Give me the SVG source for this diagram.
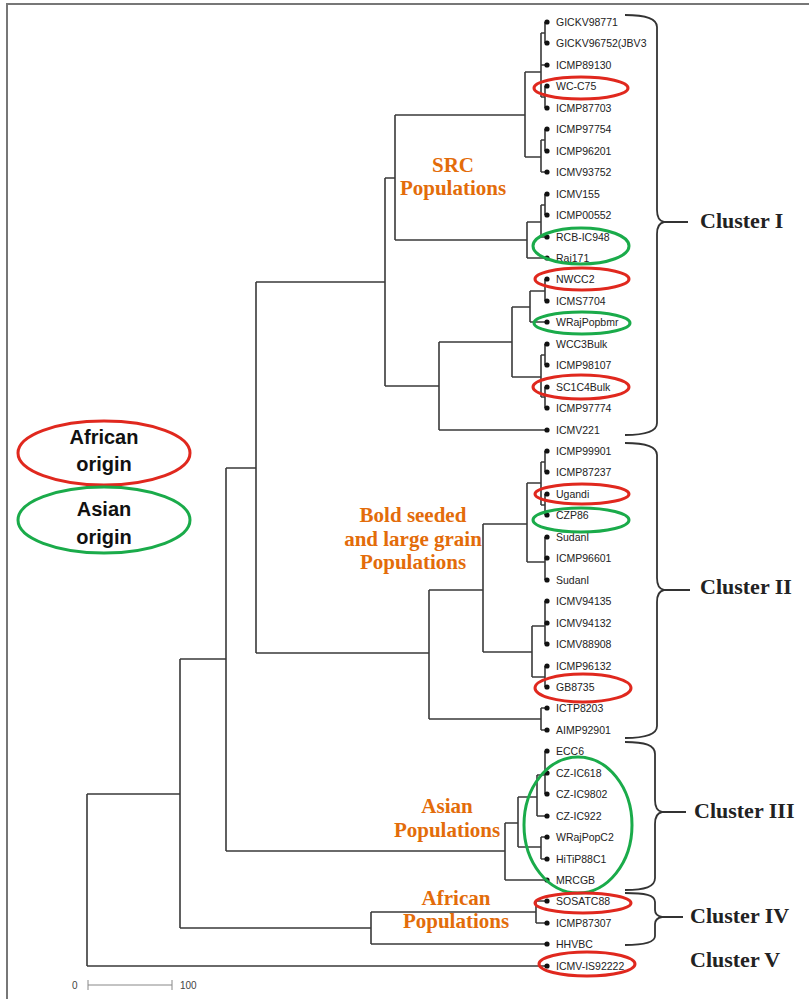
<svg xmlns="http://www.w3.org/2000/svg" width="809" height="999" viewBox="0 0 809 999">
<style>
.br{fill:none;stroke:#3a3a3a;stroke-width:1.6}
.lf{font-family:"Liberation Sans",Arial,sans-serif;font-size:10.5px;fill:#222}
.dot{fill:#111}
.or{font-family:"Liberation Serif","Times New Roman",serif;font-weight:bold;font-size:21px;fill:#e36c0a;text-anchor:middle}
.cl{font-family:"Liberation Serif","Times New Roman",serif;font-weight:bold;font-size:22px;fill:#222}
.red{fill:none;stroke:#e0281e;stroke-width:3}
.grn{fill:none;stroke:#1aab4a;stroke-width:3}
.lg{font-family:"Liberation Sans",Arial,sans-serif;font-weight:bold;font-size:20px;fill:#111;text-anchor:middle}
.brace{fill:none;stroke:#333;stroke-width:1.8}
.sc{font-family:"Liberation Sans",Arial,sans-serif;font-size:10px;fill:#444}
</style>
<rect width="809" height="999" fill="#fff"/>
<path d="M7,999V4H809" fill="none" stroke="#777" stroke-width="2"/>

<g id="connectors" class="br">
<path d="M545,22V43M545,86V108M541,33V97M541,33H545M541,65H547M541,97H545"/>
<path d="M545,129V151M541,140V172M541,140H545M541,172H547"/>
<path d="M525,72V157M525,72H541M525,157H541"/>
<path d="M545,194V215M541,205V237M541,205H545M541,237H547M527,222V258M527,222H541M527,258H547"/>
<path d="M395,115V240M395,115H525M395,240H527"/>
<path d="M545,279V301M530,291V322M530,291H545M530,322H547"/>
<path d="M545,344V365M545,387V408M541,355V397M541,355H545M541,397H545"/>
<path d="M512,307V377M512,307H530M512,377H541"/>
<path d="M439,342V430M439,342H512M439,430H547"/>
<path d="M385,178V386M385,178H395M385,386H439"/>
<path d="M545,451V472M545,494V515M541,462V505M541,462H545M541,505H545"/>
<path d="M545,537V580M527,483V562M527,483H541M527,562H545"/>
<path d="M545,601V644M545,666V687M532,626V677M532,626H545M532,677H545"/>
<path d="M483,524V652M483,524H527M483,652H532"/>
<path d="M541,708V730M541,708H547M541,730H547"/>
<path d="M429,590V719M429,590H483M429,719H541"/>
<path d="M256,282V653M256,282H385M256,653H429"/>
<path d="M545,751V794M537,775V816M537,775H545M537,816H547"/>
<path d="M541,837V859M541,837H547M541,859H547"/>
<path d="M518,797V847M518,797H537M518,847H541"/>
<path d="M505,823V880M505,823H518M505,880H547"/>
<path d="M226,468V851M226,468H256M226,851H505"/>
<path d="M536,901V923M536,901H547M536,923H547"/>
<path d="M371,912V944M371,912H536M371,944H547"/>
<path d="M180,659V928M180,659H226M180,928H371"/>
<path d="M87,794V966M87,794H180M87,966H547"/>
</g>

<g id="leaves">
<g id="L1"><circle class="dot" cx="547" cy="22" r="2.6"/><text class="lf" x="556" y="25.5">GICKV98771</text></g>
<g id="L2"><circle class="dot" cx="547" cy="43" r="2.6"/><text class="lf" x="556" y="46.5">GICKV96752(JBV3</text></g>
<g id="L3"><circle class="dot" cx="547" cy="65" r="2.6"/><text class="lf" x="556" y="68.5">ICMP89130</text></g>
<g id="L4"><circle class="dot" cx="547" cy="86" r="2.6"/><text class="lf" x="556" y="89.5">WC-C75</text></g>
<g id="L5"><circle class="dot" cx="547" cy="108" r="2.6"/><text class="lf" x="556" y="111.5">ICMP87703</text></g>
<g id="L6"><circle class="dot" cx="547" cy="129" r="2.6"/><text class="lf" x="556" y="132.5">ICMP97754</text></g>
<g id="L7"><circle class="dot" cx="547" cy="151" r="2.6"/><text class="lf" x="556" y="154.5">ICMP96201</text></g>
<g id="L8"><circle class="dot" cx="547" cy="172" r="2.6"/><text class="lf" x="556" y="175.5">ICMV93752</text></g>
<g id="L9"><circle class="dot" cx="547" cy="194" r="2.6"/><text class="lf" x="556" y="197.5">ICMV155</text></g>
<g id="L10"><circle class="dot" cx="547" cy="215" r="2.6"/><text class="lf" x="556" y="218.5">ICMP00552</text></g>
<g id="L11"><circle class="dot" cx="547" cy="237" r="2.6"/><text class="lf" x="556" y="240.5">RCB-IC948</text></g>
<g id="L12"><circle class="dot" cx="547" cy="258" r="2.6"/><text class="lf" x="556" y="261.5">Raj171</text></g>
<g id="L13"><circle class="dot" cx="547" cy="279" r="2.6"/><text class="lf" x="556" y="282.5">NWCC2</text></g>
<g id="L14"><circle class="dot" cx="547" cy="301" r="2.6"/><text class="lf" x="556" y="304.5">ICMS7704</text></g>
<g id="L15"><circle class="dot" cx="547" cy="322" r="2.6"/><text class="lf" x="556" y="325.5">WRajPopbmr</text></g>
<g id="L16"><circle class="dot" cx="547" cy="344" r="2.6"/><text class="lf" x="556" y="347.5">WCC3Bulk</text></g>
<g id="L17"><circle class="dot" cx="547" cy="365" r="2.6"/><text class="lf" x="556" y="368.5">ICMP98107</text></g>
<g id="L18"><circle class="dot" cx="547" cy="387" r="2.6"/><text class="lf" x="556" y="390.5">SC1C4Bulk</text></g>
<g id="L19"><circle class="dot" cx="547" cy="408" r="2.6"/><text class="lf" x="556" y="411.5">ICMP97774</text></g>
<g id="L20"><circle class="dot" cx="547" cy="430" r="2.6"/><text class="lf" x="556" y="433.5">ICMV221</text></g>
<g id="L21"><circle class="dot" cx="547" cy="451" r="2.6"/><text class="lf" x="556" y="454.5">ICMP99901</text></g>
<g id="L22"><circle class="dot" cx="547" cy="472" r="2.6"/><text class="lf" x="556" y="475.5">ICMP87237</text></g>
<g id="L23"><circle class="dot" cx="547" cy="494" r="2.6"/><text class="lf" x="556" y="497.5">Ugandi</text></g>
<g id="L24"><circle class="dot" cx="547" cy="515" r="2.6"/><text class="lf" x="556" y="518.5">CZP86</text></g>
<g id="L25"><circle class="dot" cx="547" cy="537" r="2.6"/><text class="lf" x="556" y="540.5">SudanI</text></g>
<g id="L26"><circle class="dot" cx="547" cy="558" r="2.6"/><text class="lf" x="556" y="561.5">ICMP96601</text></g>
<g id="L27"><circle class="dot" cx="547" cy="580" r="2.6"/><text class="lf" x="556" y="583.5">SudanI</text></g>
<g id="L28"><circle class="dot" cx="547" cy="601" r="2.6"/><text class="lf" x="556" y="604.5">ICMV94135</text></g>
<g id="L29"><circle class="dot" cx="547" cy="623" r="2.6"/><text class="lf" x="556" y="626.5">ICMV94132</text></g>
<g id="L30"><circle class="dot" cx="547" cy="644" r="2.6"/><text class="lf" x="556" y="647.5">ICMV88908</text></g>
<g id="L31"><circle class="dot" cx="547" cy="666" r="2.6"/><text class="lf" x="556" y="669.5">ICMP96132</text></g>
<g id="L32"><circle class="dot" cx="547" cy="687" r="2.6"/><text class="lf" x="556" y="690.5">GB8735</text></g>
<g id="L33"><circle class="dot" cx="547" cy="708" r="2.6"/><text class="lf" x="556" y="711.5">ICTP8203</text></g>
<g id="L34"><circle class="dot" cx="547" cy="730" r="2.6"/><text class="lf" x="556" y="733.5">AIMP92901</text></g>
<g id="L35"><circle class="dot" cx="547" cy="751" r="2.6"/><text class="lf" x="556" y="754.5">ECC6</text></g>
<g id="L36"><circle class="dot" cx="547" cy="773" r="2.6"/><text class="lf" x="556" y="776.5">CZ-IC618</text></g>
<g id="L37"><circle class="dot" cx="547" cy="794" r="2.6"/><text class="lf" x="556" y="797.5">CZ-IC9802</text></g>
<g id="L38"><circle class="dot" cx="547" cy="816" r="2.6"/><text class="lf" x="556" y="819.5">CZ-IC922</text></g>
<g id="L39"><circle class="dot" cx="547" cy="837" r="2.6"/><text class="lf" x="556" y="840.5">WRajPopC2</text></g>
<g id="L40"><circle class="dot" cx="547" cy="859" r="2.6"/><text class="lf" x="556" y="862.5">HiTiP88C1</text></g>
<g id="L41"><circle class="dot" cx="547" cy="880" r="2.6"/><text class="lf" x="556" y="883.5">MRCGB</text></g>
<g id="L42"><circle class="dot" cx="547" cy="901" r="2.6"/><text class="lf" x="556" y="904.5">SOSATC88</text></g>
<g id="L43"><circle class="dot" cx="547" cy="923" r="2.6"/><text class="lf" x="556" y="926.5">ICMP87307</text></g>
<g id="L44"><circle class="dot" cx="547" cy="944" r="2.6"/><text class="lf" x="556" y="947.5">HHVBC</text></g>
<g id="L45"><circle class="dot" cx="547" cy="966" r="2.6"/><text class="lf" x="556" y="969.5">ICMV-IS92222</text></g>
</g>

<g id="highlights">
<ellipse class="red" cx="581" cy="88" rx="47" ry="11"/>
<ellipse class="grn" cx="581" cy="246" rx="48" ry="18"/>
<ellipse class="red" cx="582" cy="279" rx="47" ry="11"/>
<ellipse class="grn" cx="582" cy="323" rx="48" ry="11"/>
<ellipse class="red" cx="581" cy="387" rx="48" ry="12"/>
<ellipse class="red" cx="582" cy="494" rx="47" ry="10"/>
<ellipse class="grn" cx="581" cy="520" rx="48" ry="12"/>
<ellipse class="red" cx="583" cy="688" rx="48" ry="14"/>
<ellipse class="grn" cx="578" cy="825" rx="54" ry="68"/>
<ellipse class="red" cx="583" cy="903" rx="48" ry="10"/>
<ellipse class="red" cx="587" cy="964" rx="48" ry="12"/>
</g>

<g id="group-labels">
<text class="or" x="453" y="172">SRC</text>
<text class="or" x="453" y="195">Populations</text>
<text class="or" x="413" y="522">Bold seeded</text>
<text class="or" x="413" y="546">and large grain</text>
<text class="or" x="413" y="569">Populations</text>
<text class="or" x="447" y="813">Asian</text>
<text class="or" x="447" y="837">Populations</text>
<text class="or" x="456" y="905">African</text>
<text class="or" x="456" y="928">Populations</text>
</g>

<g id="clusters">
<g id="cluster1"><path class="brace" d="M625,15C645,15 657,18 657,27L657,210C657,217 659,221 664,222C659,223 657,227 657,234L657,423C657,432 645,435 625,435M664,222H688"/><text class="cl" x="700" y="228">Cluster I</text></g>
<g id="cluster2"><path class="brace" d="M625,443C645,443 657,446 657,455L657,578C657,585 659,589 664,590C659,591 657,595 657,602L657,726C657,735 645,738 625,738M664,590H690"/><text class="cl" x="700" y="594">Cluster II</text></g>
<g id="cluster3"><path class="brace" d="M625,742C645,742 655,745 655,754L655,800C655,807 657,811 662,812C657,813 655,817 655,824L655,878C655,887 645,890 625,890M662,812H686"/><text class="cl" x="694" y="818">Cluster III</text></g>
<g id="cluster4"><path class="brace" d="M625,893C645,893 655,895 655,902L655,910C655,914 657,916 662,917C657,918 655,920 655,924L655,936C655,942 645,945 625,945M662,917H683"/><text class="cl" x="690" y="923">Cluster IV</text></g>
<g id="cluster5"><text class="cl" x="690" y="967">Cluster V</text></g>
</g>

<g id="legend">
<g id="legend-african"><ellipse class="red" cx="104" cy="453" rx="86" ry="32"/><text class="lg" x="104" y="444">African</text><text class="lg" x="104" y="471">origin</text></g>
<g id="legend-asian"><ellipse class="grn" cx="104" cy="520" rx="86" ry="33"/><text class="lg" x="104" y="516">Asian</text><text class="lg" x="104" y="544">origin</text></g>
</g>

<g id="scale">
<path d="M88,985H172M88,980V990M172,980V990" fill="none" stroke="#888" stroke-width="1"/>
<text class="sc" x="72" y="989">0</text>
<text class="sc" x="180" y="989">100</text>
</g>
</svg>
